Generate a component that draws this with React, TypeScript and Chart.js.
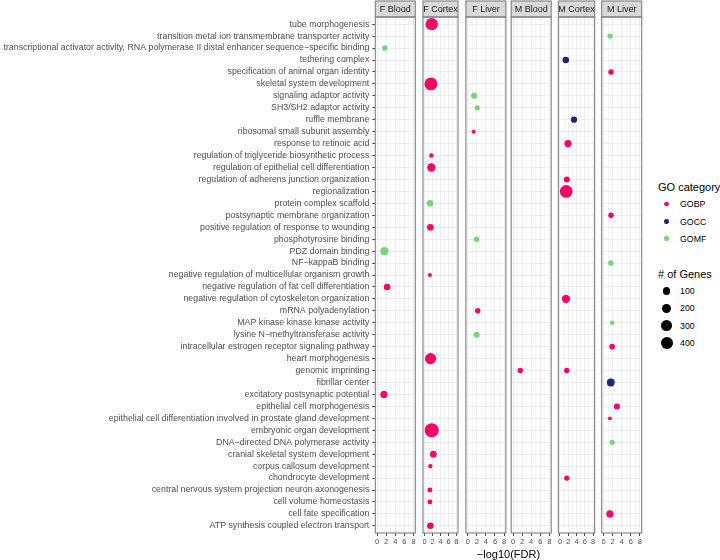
import React, { useEffect, useRef } from 'react';
import { Chart, registerables } from 'chart.js';

Chart.register(...registerables);

// ---------- data ----------
const terms = [
  'tube morphogenesis',
  'transition metal ion transmembrane transporter activity',
  'transcriptional activator activity, RNA polymerase II distal enhancer sequence\u2212specific binding',
  'tethering complex',
  'specification of animal organ identity',
  'skeletal system development',
  'signaling adaptor activity',
  'SH3/SH2 adaptor activity',
  'ruffle membrane',
  'ribosomal small subunit assembly',
  'response to retinoic acid',
  'regulation of triglyceride biosynthetic process',
  'regulation of epithelial cell differentiation',
  'regulation of adherens junction organization',
  'regionalization',
  'protein complex scaffold',
  'postsynaptic membrane organization',
  'positive regulation of response to wounding',
  'phosphotyrosine binding',
  'PDZ domain binding',
  'NF\u2212kappaB binding',
  'negative regulation of multicellular organism growth',
  'negative regulation of fat cell differentiation',
  'negative regulation of cytoskeleton organization',
  'mRNA polyadenylation',
  'MAP kinase kinase kinase activity',
  'lysine N\u2212methyltransferase activity',
  'intracellular estrogen receptor signaling pathway',
  'heart morphogenesis',
  'genomic imprinting',
  'fibrillar center',
  'excitatory postsynaptic potential',
  'epithelial cell morphogenesis',
  'epithelial cell differentiation involved in prostate gland development',
  'embryonic organ development',
  'DNA\u2212directed DNA polymerase activity',
  'cranial skeletal system development',
  'corpus callosum development',
  'chondrocyte development',
  'central nervous system projection neuron axonogenesis',
  'cell volume homeostasis',
  'cell fate specification',
  'ATP synthesis coupled electron transport',
];

type Row = { term: number; go: string; fdr: number; genes: number };

// term: 1-based position in `terms`
const fBlood: Row[] = [
  { term: 3, go: 'GOMF', fdr: 1.7, genes: 40 },
  { term: 20, go: 'GOMF', fdr: 1.6, genes: 150 },
  { term: 23, go: 'GOBP', fdr: 2.2, genes: 75 },
  { term: 32, go: 'GOBP', fdr: 1.5, genes: 100 },
];
const fCortex: Row[] = [
  { term: 1, go: 'GOBP', fdr: 1.8, genes: 420 },
  { term: 6, go: 'GOBP', fdr: 1.6, genes: 480 },
  { term: 12, go: 'GOBP', fdr: 1.7, genes: 20 },
  { term: 13, go: 'GOBP', fdr: 1.7, genes: 150 },
  { term: 16, go: 'GOMF', fdr: 1.4, genes: 75 },
  { term: 18, go: 'GOBP', fdr: 1.45, genes: 80 },
  { term: 22, go: 'GOBP', fdr: 1.35, genes: 10 },
  { term: 29, go: 'GOBP', fdr: 1.5, genes: 330 },
  { term: 35, go: 'GOBP', fdr: 1.8, genes: 580 },
  { term: 37, go: 'GOBP', fdr: 2.2, genes: 80 },
  { term: 38, go: 'GOBP', fdr: 1.45, genes: 18 },
  { term: 40, go: 'GOBP', fdr: 1.35, genes: 28 },
  { term: 41, go: 'GOBP', fdr: 1.35, genes: 25 },
  { term: 43, go: 'GOBP', fdr: 1.45, genes: 75 },
];
const fLiver: Row[] = [
  { term: 7, go: 'GOMF', fdr: 1.4, genes: 55 },
  { term: 8, go: 'GOMF', fdr: 2.1, genes: 33 },
  { term: 10, go: 'GOBP', fdr: 1.3, genes: 12 },
  { term: 19, go: 'GOMF', fdr: 1.95, genes: 40 },
  { term: 25, go: 'GOBP', fdr: 2.2, genes: 40 },
  { term: 27, go: 'GOMF', fdr: 1.95, genes: 55 },
];
const mBlood: Row[] = [
  { term: 30, go: 'GOBP', fdr: 1.6, genes: 40 },
];
const mCortex: Row[] = [
  { term: 4, go: 'GOCC', fdr: 1.4, genes: 75 },
  { term: 9, go: 'GOCC', fdr: 3.4, genes: 65 },
  { term: 11, go: 'GOBP', fdr: 1.95, genes: 100 },
  { term: 14, go: 'GOBP', fdr: 1.65, genes: 55 },
  { term: 15, go: 'GOBP', fdr: 1.5, genes: 460 },
  { term: 24, go: 'GOBP', fdr: 1.45, genes: 150 },
  { term: 30, go: 'GOBP', fdr: 1.65, genes: 40 },
  { term: 39, go: 'GOBP', fdr: 1.65, genes: 35 },
];
const mLiver: Row[] = [
  { term: 2, go: 'GOMF', fdr: 1.45, genes: 40 },
  { term: 5, go: 'GOBP', fdr: 1.65, genes: 40 },
  { term: 17, go: 'GOBP', fdr: 1.65, genes: 40 },
  { term: 21, go: 'GOMF', fdr: 1.6, genes: 40 },
  { term: 26, go: 'GOMF', fdr: 1.9, genes: 18 },
  { term: 28, go: 'GOBP', fdr: 1.9, genes: 45 },
  { term: 31, go: 'GOCC', fdr: 1.6, genes: 130 },
  { term: 33, go: 'GOBP', fdr: 2.95, genes: 55 },
  { term: 34, go: 'GOBP', fdr: 1.4, genes: 8 },
  { term: 36, go: 'GOMF', fdr: 1.9, genes: 33 },
  { term: 42, go: 'GOBP', fdr: 1.4, genes: 100 },
];

const facetNames = ['F Blood', 'F Cortex', 'F Liver', 'M Blood', 'M Cortex', 'M Liver'];
const facetRows = [fBlood, fCortex, fLiver, mBlood, mCortex, mLiver];
const goCategories = ['GOBP', 'GOCC', 'GOMF'];
const xTickLabels = [0, 2, 4, 6, 8];
const sizeBreaks = [100, 200, 300, 400];

// ---------- styling / layout ----------
const goColors = ['#FF0066', '#1C2A6B', '#72D672'];
const FONT = '"Liberation Sans", Arial, Helvetica, sans-serif';
const PANEL_LEFT = [375.3, 420.6, 465.9, 511.2, 556.4, 601.7];
const PANEL_W = 40;
const STRIP_TOP = 1;
const PANEL_TOP = 17;
const PANEL_BOTTOM = 533;
const CANVAS_H = 548;
const X_MIN = -0.4;
const X_MAX = 8.4;
const Y_MIN = 0.4;
const Y_MAX = terms.length + 0.6;

const radius = (n: number) => 1.2 + 0.24 * Math.sqrt(n);

const facetDecor = {
  id: 'facetDecor',
  afterDraw(chart: any, _args: any, opts: any) {
    const { ctx, chartArea } = chart;
    const { left, right, top, bottom } = chartArea;
    ctx.save();
    ctx.fillStyle = '#d9d9d9';
    ctx.fillRect(left, STRIP_TOP, right - left, top - STRIP_TOP);
    ctx.strokeStyle = '#808080';
    ctx.lineWidth = 1.1;
    ctx.strokeRect(left, STRIP_TOP, right - left, top - STRIP_TOP);
    ctx.strokeRect(left, top, right - left, bottom - top);
    ctx.fillStyle = '#1a1a1a';
    ctx.font = `9px ${FONT}`;
    ctx.textAlign = 'center';
    ctx.textBaseline = 'middle';
    ctx.fillText(opts.label, (left + right) / 2, (STRIP_TOP + top) / 2 + 0.5);
    ctx.restore();
  },
};

function Panel({ index }: { index: number }) {
  const ref = useRef<HTMLCanvasElement>(null);
  const first = index === 0;
  const left = PANEL_LEFT[index];
  const canvasLeft = first ? 0 : Math.floor(left) - 4;
  const padLeft = first ? 0 : left - canvasLeft;
  const canvasW = Math.ceil(left + PANEL_W + 4) - canvasLeft;
  const padRight = canvasLeft + canvasW - (left + PANEL_W);

  useEffect(() => {
    const rows = facetRows[index];
    const datasets = goCategories.map((go, gi) => ({
      label: go,
      data: rows
        .filter((r) => r.go === go)
        .map((r) => ({ x: r.fdr, y: r.term, r: radius(r.genes) })),
      backgroundColor: goColors[gi],
      borderWidth: 0,
      hoverRadius: 0,
    }));
    const chart = new Chart(ref.current as HTMLCanvasElement, {
      type: 'bubble',
      data: { datasets },
      plugins: [facetDecor],
      options: {
        animation: false,
        responsive: false,
        maintainAspectRatio: false,
        events: [],
        layout: { padding: { left: padLeft, right: padRight, top: PANEL_TOP, bottom: 0 } },
        plugins: {
          legend: { display: false },
          tooltip: { enabled: false },
          facetDecor: { label: facetNames[index] },
        } as any,
        scales: {
          x: {
            type: 'linear',
            min: X_MIN,
            max: X_MAX,
            afterBuildTicks: (s: any) => {
              s.ticks = s.ticks.filter((t: any) => Number.isInteger(t.value));
            },
            afterFit: (s: any) => {
              s.height = CANVAS_H - PANEL_BOTTOM;
            },
            ticks: {
              stepSize: 1,
              includeBounds: false,
              autoSkip: false,
              maxRotation: 0,
              minRotation: 0,
              padding: 1.5,
              color: '#4d4d4d',
              font: { family: FONT, size: 7.5 },
              callback: (v: any) => (xTickLabels.includes(v) ? String(v) : ''),
            },
            grid: {
              color: '#ebebeb',
              lineWidth: (c: any) => (xTickLabels.includes(c.tick?.value) ? 0.9 : 0.5),
              drawTicks: true,
              tickLength: 3,
              tickWidth: 0.9,
              tickColor: (c: any) => (xTickLabels.includes(c.tick?.value) ? '#333333' : 'rgba(0,0,0,0)'),
            },
            border: { display: false },
          } as any,
          y: {
            type: 'linear',
            min: Y_MIN,
            max: Y_MAX,
            reverse: true,
            afterBuildTicks: (s: any) => {
              s.ticks = s.ticks.filter((t: any) => Number.isInteger(t.value) && t.value >= 1 && t.value <= terms.length);
            },
            afterFit: (s: any) => {
              s.width = first ? PANEL_LEFT[0] : 0;
            },
            ticks: {
              display: first,
              stepSize: 1,
              includeBounds: false,
              autoSkip: false,
              padding: 3,
              color: '#4d4d4d',
              font: { family: FONT, size: 8.8 },
              callback: (v: any) => terms[v - 1] ?? '',
            },
            grid: {
              color: '#ebebeb',
              lineWidth: 0.9,
              drawTicks: first,
              tickLength: 3,
              tickWidth: 0.9,
              tickColor: '#333333',
            },
            border: { display: false },
          } as any,
        },
      },
    });
    return () => chart.destroy();
  }, []);

  return (
    <canvas
      ref={ref}
      width={canvasW}
      height={CANVAS_H}
      style={{ position: 'absolute', left: canvasLeft, top: 0, width: canvasW, height: CANVAS_H }}
    />
  );
}

const textStyle = (left: number, cy: number, size: number, lh = 14): React.CSSProperties => ({
  position: 'absolute',
  left,
  top: cy - lh / 2,
  height: lh,
  lineHeight: `${lh}px`,
  fontSize: size,
  fontFamily: FONT,
  whiteSpace: 'nowrap',
});

const dotStyle = (cx: number, cy: number, r: number, color: string): React.CSSProperties => ({
  position: 'absolute',
  left: cx - r,
  top: cy - r,
  width: 2 * r,
  height: 2 * r,
  borderRadius: '50%',
  background: color,
});

export default function App() {
  const goY = [204, 221.5, 238.5];
  const sizeY = [291, 308.3, 325.7, 343];
  const keyX = 666.5;
  const labelX = 680;
  const panelsRight = PANEL_LEFT[5] + PANEL_W;
  return (
    <div
      style={{
        position: 'absolute',
        left: 0,
        top: 0,
        width: 720,
        height: 560,
        background: '#ffffff',
        overflow: 'hidden',
        fontFamily: FONT,
      }}
    >
      {facetNames.map((_, i) => (
        <Panel key={i} index={i} />
      ))}
      <div
        style={{
          ...textStyle(PANEL_LEFT[0], 554, 11),
          width: panelsRight - PANEL_LEFT[0],
          textAlign: 'center',
          color: '#000',
        }}
      >
        {'\u2212log10(FDR)'}
      </div>
      <div style={{ ...textStyle(658, 187, 11), color: '#000' }}>GO category</div>
      {goCategories.map((g, i) => (
        <React.Fragment key={g}>
          <div style={dotStyle(keyX, goY[i], 2.2, goColors[i])} />
          <div style={{ ...textStyle(labelX, goY[i], 8.8), color: '#000' }}>{g}</div>
        </React.Fragment>
      ))}
      <div style={{ ...textStyle(658, 273.5, 11), color: '#000' }}># of Genes</div>
      {sizeBreaks.map((b, i) => (
        <React.Fragment key={b}>
          <div style={dotStyle(keyX, sizeY[i], radius(b), '#000')} />
          <div style={{ ...textStyle(labelX, sizeY[i], 8.8), color: '#000' }}>{b}</div>
        </React.Fragment>
      ))}
    </div>
  );
}
